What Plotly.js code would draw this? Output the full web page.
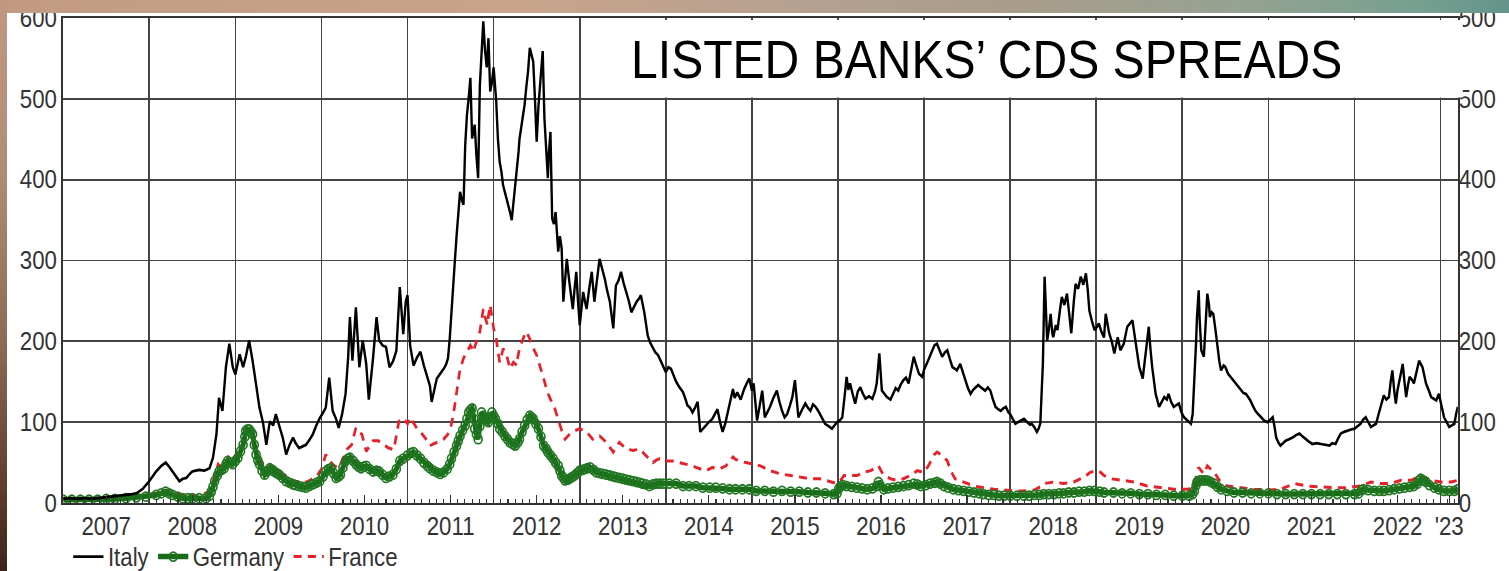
<!DOCTYPE html>
<html>
<head>
<meta charset="utf-8">
<script src="https://cdn.plot.ly/plotly-3.0.1.min.js"></script>
<style>
  html, body { margin: 0; padding: 0; overflow: hidden; background: #ffffff; }
  #band { position: absolute; left: 0; top: 0; width: 1509px; height: 13px; z-index: 5;
    background: linear-gradient(to right, #c29a82 0%, #c8a48c 35%, #b4a090 55%, #a89c8a 68%, #96a292 82%, #76a090 94%, #64948a 100%); }
  #strip { position: absolute; left: 0; top: 0; width: 7px; height: 571px; z-index: 6;
    background: linear-gradient(to bottom, #c09882 0%, #b08c76 30%, #8e6a56 60%, #5e3e2e 85%, #3e2418 100%); }
  #wrap { position: absolute; left: 0; top: 0; transform-origin: 0 0; }
</style>
</head>
<body>
<div id="band"></div>
<div id="strip"></div>
<div id="wrap"><div id="chart"></div></div>
<script>
// ---------------- data (decimal year, basis points) ----------------
const seriesNames = ['Italy', 'Germany', 'France'];

const italySeries = [
[2007.00,5],[2007.08,6],[2007.17,5],[2007.25,6],[2007.33,5],[2007.42,6],[2007.50,7],[2007.58,8],[2007.66,9],[2007.73,10],[2007.80,11],[2007.85,12],[2007.92,17],
[2008.00,27],[2008.04,33],[2008.08,39],[2008.14,46],[2008.19,50],[2008.23,45],[2008.27,39],[2008.31,33],[2008.35,27],[2008.39,30],[2008.43,31],[2008.47,36],[2008.50,39],[2008.54,40],[2008.58,41],[2008.64,40],[2008.70,43],[2008.74,56],[2008.78,85],[2008.81,130],[2008.85,114],[2008.89,168],[2008.93,197],[2008.97,168],
[2009.00,159],[2009.05,184],[2009.09,168],[2009.12,180],[2009.16,201],[2009.20,176],[2009.24,147],[2009.28,118],[2009.32,100],[2009.36,72],[2009.40,101],[2009.44,96],[2009.47,110],[2009.51,95],[2009.55,81],[2009.59,60],[2009.63,72],[2009.67,81],[2009.70,74],[2009.74,68],[2009.78,70],[2009.82,72],[2009.86,78],[2009.90,85],[2009.94,96],[2009.98,105],
[2010.02,112],[2010.05,118],[2010.09,155],[2010.13,114],[2010.17,104],[2010.20,93],[2010.24,110],[2010.28,135],[2010.31,180],[2010.33,230],[2010.36,176],[2010.40,242],[2010.44,168],[2010.48,201],[2010.52,172],[2010.55,128],[2010.60,180],[2010.64,230],[2010.67,201],[2010.71,195],[2010.75,193],[2010.79,168],[2010.83,175],[2010.87,188],[2010.91,267],[2010.95,209],[2010.98,250],
[2011.00,257],[2011.03,195],[2011.07,170],[2011.11,180],[2011.15,187],[2011.19,170],[2011.23,155],[2011.26,145],[2011.28,125],[2011.31,140],[2011.34,154],[2011.38,160],[2011.42,166],[2011.45,172],[2011.47,179],[2011.49,203],[2011.51,240],[2011.53,269],[2011.55,300],[2011.57,331],[2011.59,360],[2011.61,385],[2011.63,375],[2011.65,369],[2011.67,443],[2011.69,480],[2011.71,501],[2011.73,526],[2011.75,451],[2011.78,468],[2011.80,430],[2011.82,402],[2011.84,517],[2011.86,560],[2011.88,596],[2011.90,560],[2011.92,539],[2011.94,575],[2011.96,509],[2011.98,520],
[2012.00,539],[2012.03,497],[2012.05,450],[2012.07,422],[2012.09,410],[2012.11,393],[2012.13,385],[2012.15,377],[2012.17,370],[2012.19,360],[2012.21,350],[2012.23,370],[2012.25,393],[2012.27,415],[2012.29,435],[2012.30,450],[2012.32,464],[2012.34,480],[2012.36,493],[2012.38,515],[2012.40,534],[2012.42,563],[2012.44,555],[2012.46,546],[2012.48,500],[2012.50,447],[2012.52,490],[2012.54,517],[2012.57,559],[2012.59,476],[2012.61,440],[2012.63,402],[2012.64,430],[2012.66,459],[2012.68,352],[2012.70,345],[2012.72,360],[2012.75,311],[2012.77,330],[2012.79,315],[2012.81,249],[2012.83,275],[2012.85,302],[2012.88,273],[2012.90,255],[2012.92,240],[2012.94,265],[2012.96,286],[2012.98,250],
[2013.00,220],[2013.02,240],[2013.04,261],[2013.06,250],[2013.08,240],[2013.11,265],[2013.14,286],[2013.17,249],[2013.20,275],[2013.23,302],[2013.26,290],[2013.29,278],[2013.32,262],[2013.35,249],[2013.39,216],[2013.42,269],[2013.45,275],[2013.48,286],[2013.51,272],[2013.54,261],[2013.57,250],[2013.60,236],[2013.63,242],[2013.66,249],[2013.69,253],[2013.71,257],[2013.75,236],[2013.79,207],[2013.82,198],[2013.85,191],[2013.88,186],[2013.91,183],[2013.94,176],[2013.97,170],
[2014.00,162],[2014.03,168],[2014.06,166],[2014.09,158],[2014.12,150],[2014.16,143],[2014.20,137],[2014.23,128],[2014.25,121],[2014.28,118],[2014.31,112],[2014.34,118],[2014.37,125],[2014.40,88],[2014.43,92],[2014.47,96],[2014.50,100],[2014.54,104],[2014.57,110],[2014.60,116],[2014.63,100],[2014.66,88],[2014.69,98],[2014.72,112],[2014.75,125],[2014.78,141],[2014.80,130],[2014.83,137],[2014.87,128],[2014.91,141],[2014.94,148],[2014.97,154],
[2015.00,139],[2015.02,148],[2015.04,125],[2015.06,102],[2015.09,120],[2015.12,139],[2015.15,106],[2015.18,112],[2015.21,119],[2015.25,130],[2015.29,139],[2015.32,125],[2015.35,114],[2015.38,106],[2015.41,110],[2015.44,120],[2015.47,131],[2015.50,152],[2015.52,125],[2015.54,106],[2015.58,115],[2015.62,123],[2015.65,118],[2015.68,114],[2015.71,122],[2015.74,119],[2015.77,114],[2015.79,110],[2015.82,104],[2015.85,98],[2015.89,95],[2015.93,92],[2015.96,96],[2015.99,100],
[2016.02,102],[2016.05,106],[2016.08,135],[2016.10,156],[2016.12,140],[2016.14,148],[2016.17,135],[2016.20,123],[2016.23,138],[2016.26,143],[2016.29,135],[2016.32,129],[2016.36,132],[2016.40,129],[2016.43,138],[2016.45,148],[2016.48,185],[2016.51,139],[2016.54,135],[2016.57,131],[2016.61,128],[2016.64,135],[2016.67,142],[2016.70,139],[2016.73,147],[2016.76,152],[2016.79,155],[2016.82,148],[2016.85,165],[2016.88,181],[2016.91,170],[2016.94,160],[2016.98,156],
[2017.00,165],[2017.03,172],[2017.06,180],[2017.09,189],[2017.12,195],[2017.15,197],[2017.18,190],[2017.21,181],[2017.24,186],[2017.27,189],[2017.30,178],[2017.33,168],[2017.36,166],[2017.38,164],[2017.42,172],[2017.45,162],[2017.48,152],[2017.51,142],[2017.54,135],[2017.57,140],[2017.60,143],[2017.63,146],[2017.66,143],[2017.69,140],[2017.71,139],[2017.74,143],[2017.77,139],[2017.80,128],[2017.83,119],[2017.86,116],[2017.89,114],[2017.92,117],[2017.95,119],[2017.98,112],
[2018.00,110],[2018.03,104],[2018.06,98],[2018.09,100],[2018.12,102],[2018.16,104],[2018.20,100],[2018.23,97],[2018.25,98],[2018.28,94],[2018.31,88],[2018.33,92],[2018.35,98],[2018.37,140],[2018.38,172],[2018.40,280],[2018.41,250],[2018.43,201],[2018.45,215],[2018.47,234],[2018.49,210],[2018.50,205],[2018.53,220],[2018.55,214],[2018.58,240],[2018.60,255],[2018.63,245],[2018.66,259],[2018.69,230],[2018.71,210],[2018.74,250],[2018.76,271],[2018.79,265],[2018.82,280],[2018.85,270],[2018.88,284],[2018.90,265],[2018.92,238],[2018.95,225],[2018.98,214],
[2019.01,218],[2019.03,222],[2019.06,212],[2019.09,205],[2019.11,234],[2019.15,210],[2019.18,200],[2019.21,185],[2019.25,205],[2019.28,189],[2019.32,197],[2019.36,218],[2019.39,222],[2019.42,226],[2019.46,197],[2019.50,168],[2019.54,154],[2019.57,181],[2019.61,218],[2019.63,190],[2019.65,168],[2019.69,135],[2019.73,119],[2019.76,125],[2019.79,131],[2019.82,128],[2019.84,135],[2019.87,125],[2019.90,119],[2019.93,121],[2019.96,123],[2019.99,112],
[2020.02,106],[2020.06,102],[2020.10,98],[2020.12,110],[2020.14,148],[2020.16,200],[2020.17,230],[2020.19,263],[2020.20,230],[2020.22,189],[2020.25,181],[2020.27,220],[2020.29,259],[2020.31,245],[2020.32,230],[2020.34,236],[2020.36,234],[2020.39,210],[2020.41,189],[2020.43,175],[2020.45,164],[2020.48,170],[2020.50,168],[2020.53,160],[2020.56,156],[2020.59,152],[2020.62,148],[2020.65,143],[2020.68,139],[2020.71,136],[2020.74,135],[2020.77,130],[2020.79,127],[2020.82,120],[2020.85,114],[2020.88,110],[2020.91,106],[2020.95,102],[2020.99,100],
[2021.02,103],[2021.05,106],[2021.07,95],[2021.09,81],[2021.12,74],[2021.14,71],[2021.17,74],[2021.20,77],[2021.24,79],[2021.28,81],[2021.32,84],[2021.36,86],[2021.40,82],[2021.43,79],[2021.47,76],[2021.51,73],[2021.56,74],[2021.61,73],[2021.66,72],[2021.71,71],[2021.74,74],[2021.78,73],[2021.81,80],[2021.84,86],[2021.88,88],[2021.92,90],[2021.96,91],
[2022.00,92],[2022.03,95],[2022.07,98],[2022.10,103],[2022.13,106],[2022.16,100],[2022.19,94],[2022.22,96],[2022.25,98],[2022.28,110],[2022.31,123],[2022.34,133],[2022.37,128],[2022.40,131],[2022.42,150],[2022.44,164],[2022.46,140],[2022.48,123],[2022.50,140],[2022.53,156],[2022.56,172],[2022.58,150],[2022.60,131],[2022.62,145],[2022.64,156],[2022.67,152],[2022.69,148],[2022.72,162],[2022.75,176],[2022.77,172],[2022.79,168],[2022.81,158],[2022.83,148],[2022.86,140],[2022.89,131],[2022.92,129],[2022.95,127],[2022.98,135],
[2023.01,120],[2023.04,106],[2023.07,100],[2023.10,94],[2023.13,96],[2023.16,98],[2023.18,110],[2023.20,119]
];

const germanySeries = [
[2007.00,4],[2007.10,4],[2007.20,4],[2007.30,4],[2007.40,4],[2007.50,5],[2007.60,5],[2007.73,6],[2007.85,7],[2007.96,8],
[2008.08,10],[2008.14,12],[2008.19,14],[2008.23,12],[2008.27,10],[2008.33,8],[2008.39,6],[2008.45,6],[2008.50,6],[2008.58,6],[2008.66,6],[2008.70,9],[2008.72,14],[2008.74,20],[2008.76,27],[2008.79,34],[2008.81,39],[2008.84,41],[2008.87,43],[2008.89,48],[2008.91,52],[2008.94,50],[2008.97,48],
[2009.00,52],[2009.03,56],[2009.06,64],[2009.09,72],[2009.11,82],[2009.12,89],[2009.14,91],[2009.16,91],[2009.18,88],[2009.20,85],[2009.22,72],[2009.24,60],[2009.26,53],[2009.28,48],[2009.31,40],[2009.34,35],[2009.37,39],[2009.40,43],[2009.43,41],[2009.45,39],[2009.48,37],[2009.51,35],[2009.55,31],[2009.59,27],[2009.63,25],[2009.67,23],[2009.70,22],[2009.74,21],[2009.78,20],[2009.82,19],[2009.86,21],[2009.90,23],[2009.94,25],[2009.98,27],
[2010.02,33],[2010.05,39],[2010.08,42],[2010.11,43],[2010.14,37],[2010.17,31],[2010.20,33],[2010.22,35],[2010.25,44],[2010.28,52],[2010.31,55],[2010.33,56],[2010.37,52],[2010.40,48],[2010.43,45],[2010.46,43],[2010.49,45],[2010.52,46],[2010.56,42],[2010.60,39],[2010.64,40],[2010.67,39],[2010.71,35],[2010.75,31],[2010.79,33],[2010.83,35],[2010.87,42],[2010.91,52],[2010.95,55],
[2011.00,59],[2011.04,62],[2011.07,63],[2011.11,59],[2011.15,55],[2011.19,50],[2011.23,46],[2011.26,43],[2011.30,40],[2011.34,38],[2011.38,36],[2011.42,38],[2011.46,42],[2011.49,48],[2011.51,55],[2011.54,63],[2011.57,71],[2011.59,77],[2011.61,83],[2011.64,90],[2011.67,96],[2011.69,104],[2011.71,112],[2011.73,115],[2011.75,117],[2011.77,104],[2011.78,92],[2011.80,85],[2011.82,79],[2011.84,95],[2011.86,112],[2011.88,108],[2011.90,104],[2011.92,102],[2011.94,100],[2011.96,106],[2011.98,112],
[2012.00,108],[2012.02,104],[2012.05,98],[2012.07,92],[2012.10,88],[2012.13,83],[2012.16,79],[2012.19,75],[2012.22,73],[2012.25,71],[2012.28,75],[2012.30,79],[2012.33,88],[2012.36,96],[2012.39,103],[2012.42,108],[2012.44,106],[2012.46,104],[2012.49,98],[2012.52,92],[2012.55,82],[2012.58,71],[2012.61,67],[2012.63,63],[2012.66,59],[2012.69,55],[2012.72,50],[2012.75,46],[2012.77,40],[2012.79,34],[2012.81,31],[2012.83,28],[2012.86,29],[2012.88,30],[2012.91,32],[2012.94,34],[2012.97,37],
[2013.00,40],[2013.03,41],[2013.06,42],[2013.09,43],[2013.12,44],[2013.16,41],[2013.19,38],[2013.23,37],[2013.27,36],[2013.31,35],[2013.35,34],[2013.39,33],[2013.42,32],[2013.46,31],[2013.50,30],[2013.54,29],[2013.58,28],[2013.62,27],[2013.66,26],[2013.70,25],[2013.73,24],[2013.77,23],[2013.81,21],[2013.85,23],[2013.89,24],[2013.93,24],[2013.97,24],
[2014.04,24],[2014.12,24],[2014.20,21],[2014.27,21],[2014.35,21],[2014.43,19],[2014.51,19],[2014.58,19],[2014.66,18],[2014.74,17],[2014.81,17],[2014.89,17],[2014.97,17],
[2015.05,15],[2015.15,15],[2015.25,14],[2015.35,15],[2015.45,14],[2015.55,14],[2015.65,13],[2015.75,13],[2015.85,12],[2015.95,11],[2015.99,12],
[2016.01,18],[2016.03,21],[2016.06,22],[2016.10,21],[2016.16,20],[2016.22,19],[2016.28,18],[2016.34,17],[2016.40,18],[2016.45,21],[2016.47,26],[2016.49,22],[2016.53,17],[2016.58,18],[2016.64,19],[2016.70,20],[2016.76,21],[2016.82,22],[2016.88,24],[2016.92,23],[2016.96,21],
[2017.02,22],[2017.07,24],[2017.12,25],[2017.15,26],[2017.19,24],[2017.23,21],[2017.28,19],[2017.34,17],[2017.40,16],[2017.46,15],[2017.52,14],[2017.58,13],[2017.64,12],[2017.69,11],[2017.75,10],[2017.81,10],[2017.87,9],[2017.93,9],
[2018.00,9],[2018.08,9],[2018.16,9],[2018.22,9],[2018.28,10],[2018.34,10],[2018.39,11],[2018.45,11],[2018.51,11],[2018.57,12],[2018.62,12],[2018.68,13],[2018.74,13],[2018.80,14],[2018.86,14],[2018.92,15],[2018.98,15],
[2019.04,14],[2019.09,13],[2019.20,13],[2019.30,12],[2019.40,12],[2019.50,11],[2019.60,11],[2019.70,10],[2019.80,10],[2019.90,9],
[2020.00,9],[2020.08,9],[2020.12,11],[2020.14,15],[2020.16,22],[2020.17,26],[2020.20,28],[2020.23,28],[2020.26,28],[2020.29,28],[2020.33,26],[2020.37,24],[2020.41,20],[2020.45,17],[2020.52,15],[2020.60,13],[2020.70,13],[2020.80,12],[2020.90,12],
[2021.00,12],[2021.10,11],[2021.20,11],[2021.30,11],[2021.40,11],[2021.50,11],[2021.60,11],[2021.70,11],[2021.80,11],[2021.90,11],
[2022.00,11],[2022.05,12],[2022.08,16],[2022.10,17],[2022.16,16],[2022.23,15],[2022.29,15],[2022.34,15],[2022.40,16],[2022.46,17],[2022.52,18],[2022.58,19],[2022.64,20],[2022.69,21],[2022.73,24],[2022.75,28],[2022.77,30],[2022.80,28],[2022.83,26],[2022.87,22],[2022.93,19],[2022.98,17],
[2023.04,15],[2023.10,15],[2023.16,15],[2023.20,17]
];

const franceSeries = [
[2007.00,6],[2007.10,6],[2007.20,6],[2007.30,6],[2007.40,6],[2007.50,7],[2007.60,7],[2007.73,8],[2007.85,9],[2007.96,10],
[2008.08,12],[2008.19,16],[2008.27,13],[2008.39,10],[2008.50,9],[2008.60,9],[2008.70,15],[2008.75,30],[2008.80,48],[2008.84,44],[2008.87,43],[2008.90,52],[2008.93,60],[2008.97,55],
[2009.00,58],[2009.05,68],[2009.10,75],[2009.15,90],[2009.20,86],[2009.25,63],[2009.30,50],[2009.35,42],[2009.40,46],[2009.45,44],[2009.50,40],[2009.55,35],[2009.60,31],[2009.65,29],[2009.70,27],[2009.75,26],[2009.80,25],[2009.85,27],[2009.90,30],[2009.95,34],
[2010.00,42],[2010.05,60],[2010.09,52],[2010.15,46],[2010.20,43],[2010.25,55],[2010.30,67],[2010.35,72],[2010.40,93],[2010.43,89],[2010.47,85],[2010.52,64],[2010.60,77],[2010.66,77],[2010.72,72],[2010.78,68],[2010.84,66],[2010.90,101],[2010.95,105],
[2011.00,98],[2011.03,106],[2011.07,99],[2011.11,92],[2011.15,88],[2011.19,83],[2011.23,77],[2011.26,71],[2011.30,73],[2011.34,75],[2011.38,77],[2011.42,79],[2011.46,84],[2011.49,88],[2011.51,98],[2011.53,108],[2011.55,122],[2011.57,137],[2011.59,150],[2011.61,166],[2011.63,172],[2011.65,179],[2011.67,183],[2011.69,187],[2011.71,191],[2011.73,195],[2011.75,191],[2011.76,187],[2011.78,193],[2011.80,199],[2011.82,205],[2011.84,212],[2011.86,226],[2011.88,240],[2011.90,230],[2011.93,220],[2011.94,232],[2011.96,245],[2011.98,230],
[2012.00,216],[2012.03,203],[2012.05,188],[2012.07,174],[2012.09,182],[2012.11,191],[2012.13,187],[2012.15,183],[2012.17,175],[2012.19,166],[2012.21,170],[2012.23,174],[2012.25,172],[2012.27,170],[2012.28,180],[2012.30,191],[2012.32,197],[2012.34,203],[2012.36,208],[2012.38,212],[2012.40,208],[2012.42,203],[2012.44,197],[2012.46,191],[2012.48,187],[2012.50,183],[2012.52,176],[2012.54,170],[2012.56,162],[2012.58,154],[2012.60,147],[2012.61,141],[2012.64,133],[2012.67,125],[2012.69,121],[2012.71,117],[2012.73,110],[2012.75,104],[2012.77,96],[2012.79,88],[2012.81,83],[2012.83,79],[2012.86,83],[2012.89,86],[2012.92,88],[2012.96,90],
[2013.00,92],[2013.04,90],[2013.08,88],[2013.12,83],[2013.15,79],[2013.19,81],[2013.23,83],[2013.27,79],[2013.31,75],[2013.35,69],[2013.39,63],[2013.42,69],[2013.46,75],[2013.50,71],[2013.54,67],[2013.58,66],[2013.62,65],[2013.66,66],[2013.69,67],[2013.73,63],[2013.77,59],[2013.81,55],[2013.85,50],[2013.89,53],[2013.93,55],[2013.97,53],
[2014.00,52],[2014.04,52],[2014.08,52],[2014.12,51],[2014.16,50],[2014.20,49],[2014.24,48],[2014.27,47],[2014.31,46],[2014.35,44],[2014.39,42],[2014.43,41],[2014.47,40],[2014.50,42],[2014.54,44],[2014.58,43],[2014.62,42],[2014.66,44],[2014.70,46],[2014.74,52],[2014.78,57],[2014.81,54],[2014.85,52],[2014.89,51],[2014.93,50],[2014.97,49],
[2015.00,48],[2015.10,46],[2015.21,40],[2015.33,36],[2015.45,34],[2015.56,32],[2015.68,30],[2015.79,30],[2015.85,28],[2015.91,26],[2015.99,24],
[2016.03,28],[2016.07,34],[2016.14,34],[2016.22,34],[2016.30,38],[2016.38,40],[2016.45,44],[2016.47,46],[2016.50,40],[2016.53,34],[2016.61,30],[2016.69,28],[2016.76,30],[2016.84,34],[2016.92,40],
[2017.00,38],[2017.05,46],[2017.09,55],[2017.12,60],[2017.15,63],[2017.18,61],[2017.21,59],[2017.27,52],[2017.31,40],[2017.36,30],[2017.46,26],[2017.58,21],[2017.69,19],[2017.81,17],[2017.93,16],
[2018.04,15],[2018.16,15],[2018.28,16],[2018.35,20],[2018.39,24],[2018.51,26],[2018.62,24],[2018.74,26],[2018.86,32],[2018.93,38],
[2019.01,40],[2019.05,38],[2019.09,34],[2019.17,30],[2019.28,28],[2019.44,26],[2019.59,21],[2019.75,19],[2019.90,17],
[2020.06,17],[2020.12,18],[2020.14,24],[2020.17,38],[2020.19,44],[2020.22,40],[2020.25,36],[2020.29,46],[2020.33,42],[2020.37,38],[2020.43,28],[2020.52,21],[2020.68,19],[2020.83,17],[2020.99,16],
[2021.14,17],[2021.30,24],[2021.45,21],[2021.61,20],[2021.76,19],[2021.92,19],
[2022.07,21],[2022.19,26],[2022.31,24],[2022.42,24],[2022.54,28],[2022.66,28],[2022.77,34],[2022.89,28],
[2023.00,26],[2023.12,26],[2023.20,28]
];

const yearLabelPositions = [2007.5,2008.5,2009.5,2010.5,2011.5,2012.5,2013.5,2014.5,2015.5,2016.5,2017.5,2018.5,2019.5,2020.5,2021.5,2022.5,2023.1];
const yearLabels = ['2007','2008','2009','2010','2011','2012','2013','2014','2015','2016','2017','2018','2019','2020','2021','2022',"'23"];
const yearStarts = [2008,2009,2010,2011,2012,2013,2014,2015,2016,2017,2018,2019,2020,2021,2022,2023];
const yTickVals = [0,100,200,300,400,500,600];
const yTickTextLeft = ['0','100','200','300','400','500','600'];
const yTickTextRight = ['0','100','200','300','400','500','500'];
const chartTitle = 'LISTED BANKS\u2019 CDS SPREADS';

// ---------------- layout / rendering ----------------
const S = 0.89;               // horizontal squeeze of the original picture
const W = 1509 / S;
document.getElementById('wrap').style.transform = 'scaleX(' + S + ')';

const FONT = 'Liberation Sans, Arial, Helvetica, sans-serif';
const xs = a => a.map(p => p[0]);
const ys = a => a.map(p => p[1]);

const traces = [
  { x: xs(franceSeries), y: ys(franceSeries), name: seriesNames[2], type: 'scatter', mode: 'lines',
    xaxis: 'x', yaxis: 'y', legendrank: 3,
    line: { color: '#e8202a', width: 3, dash: '9px,7px' }, hoverinfo: 'skip' },
  { x: xs(germanySeries), y: ys(germanySeries), name: seriesNames[1], type: 'scatter', mode: 'lines+markers',
    xaxis: 'x2', yaxis: 'y2', legendrank: 2,
    line: { color: '#186c18', width: 5.5 },
    marker: { symbol: 'circle-open', size: 9, color: '#217621', line: { width: 1.8 } }, hoverinfo: 'skip' },
  { x: xs(italySeries), y: ys(italySeries), name: seriesNames[0], type: 'scatter', mode: 'lines',
    xaxis: 'x2', yaxis: 'y2', legendrank: 1,
    line: { color: '#000000', width: 2.7 }, hoverinfo: 'skip' }
];

const tickFont = { family: FONT, size: 25, color: '#333333' };

const layout = {
  width: W, height: 571,
  margin: { l: 63 / S, r: 52 / S, t: 18, b: 68, pad: 0, autoexpand: false },
  paper_bgcolor: '#ffffff', plot_bgcolor: '#ffffff',
  font: { family: FONT, color: '#333333' },
  showlegend: true,
  legend: { orientation: 'h', x: 0.004, xanchor: 'left', y: -0.111, yanchor: 'middle', itemwidth: 34,
            font: { family: FONT, size: 25, color: '#333333' }, bgcolor: 'rgba(0,0,0,0)' },
  xaxis: {
    range: [2007, 2023.2], tickmode: 'array', tickvals: yearLabelPositions, ticktext: yearLabels,
    ticks: 'inside', ticklen: 8, tickwidth: 1.4, tickcolor: '#333333',
    showgrid: false, zeroline: false, showline: true, mirror: true, linecolor: '#333333', linewidth: 2,
    tickfont: tickFont, fixedrange: true,
    minor: { tickmode: 'linear', tick0: 2007, dtick: 1 / 12, ticks: 'inside', ticklen: 4, tickwidth: 1.2, tickcolor: '#333333', showgrid: false }
  },
  xaxis2: {
    overlaying: 'x', anchor: 'y2', range: [2007, 2023.2], tickmode: 'array', tickvals: yearStarts,
    showticklabels: false, ticks: '', showgrid: true, gridcolor: '#444444', gridwidth: 1.9,
    zeroline: false, showline: false, fixedrange: true
  },
  yaxis: {
    range: [0, 600], tickmode: 'array', tickvals: yTickVals, ticktext: yTickTextLeft,
    showgrid: true, gridcolor: '#444444', gridwidth: 1.9, zeroline: false,
    showline: true, mirror: true, linecolor: '#333333', linewidth: 2, ticks: '',
    tickfont: tickFont, fixedrange: true
  },
  yaxis2: {
    overlaying: 'y', anchor: 'x2', side: 'right', range: [0, 600], tickmode: 'array',
    tickvals: yTickVals, ticktext: yTickTextRight, showgrid: false, zeroline: false, showline: false,
    ticks: '', tickfont: tickFont, fixedrange: true
  },
  shapes: [
    { type: 'rect', xref: 'paper', yref: 'paper', x0: 0.3895, x1: 1.0036, y0: 0.836, y1: 0.996,
      fillcolor: '#ffffff', line: { width: 0 }, layer: 'above' }
  ],
  annotations: [
    { xref: 'paper', yref: 'paper', x: 0.662, y: 0.915, xanchor: 'center', yanchor: 'middle',
      text: chartTitle, showarrow: false, font: { family: FONT, size: 54, color: '#000000' } }
  ]
};

Plotly.newPlot('chart', traces, layout, { displayModeBar: false, staticPlot: true });
</script>
</body>
</html>
